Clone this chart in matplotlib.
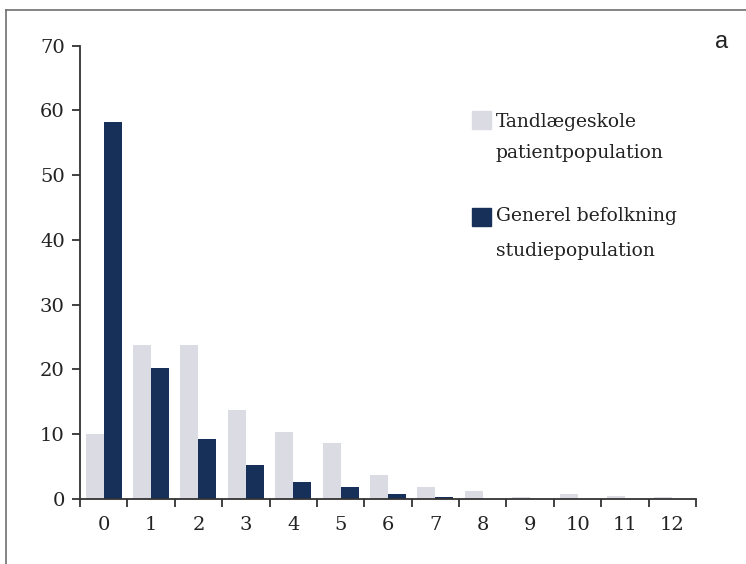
import matplotlib
matplotlib.use("Agg")
import matplotlib.pyplot as plt
from matplotlib.lines import Line2D
from matplotlib.patches import Rectangle
import numpy as np

# number of affected teeth per person
categories = [str(i) for i in range(13)]
tandlaege = [10.0, 23.8, 23.8, 13.7, 10.3, 8.6, 3.7, 1.9, 1.3, 0.3, 0.7, 0.5, 0.3]
befolkning = [58.2, 20.3, 9.3, 5.2, 2.7, 1.9, 0.7, 0.3, 0, 0, 0, 0, 0]
legend_lines = [["Tandlægeskole", "patientpopulation"],
                ["Generel befolkning", "studiepopulation"]]
yticks = list(range(0, 71, 10))

light = '#DADBE3'
dark = '#163059'
W, H = 746, 564

plt.rcParams['font.family'] = 'DejaVu Serif'
fig = plt.figure(figsize=(W / 100, H / 100), dpi=100)
ax = fig.add_axes([80 / W, 1 - 499 / H, 616 / W, (499 - 45.7) / H])

x = np.arange(len(categories))
bw = 0.38
ax.bar(x - bw / 2, tandlaege, bw, color=light, linewidth=0)
ax.bar(x + bw / 2, befolkning, bw, color=dark, linewidth=0)

ax.set_xlim(-0.5, len(categories) - 0.5)
ax.set_ylim(0, 70)
for s in ['top', 'right']:
    ax.spines[s].set_visible(False)
for s in ['left', 'bottom']:
    ax.spines[s].set_color('#333333')
    ax.spines[s].set_linewidth(1.3)

ax.set_xticks(x)
ax.set_xticklabels(categories, fontsize=14, color='#222222')
ax.set_xticks(np.arange(-0.5, len(categories)), minor=True)
ax.tick_params(axis='x', which='major', length=0, pad=12)
ax.tick_params(axis='x', which='minor', length=6, width=1.3, color='#333333')
ax.set_yticks(yticks)
ax.set_yticklabels([str(v) for v in yticks], fontsize=14, color='#222222')
ax.tick_params(axis='y', length=6, width=1.3, color='#333333', pad=5)

# legend drawn by hand so the swatch sits on the first text line
def fx(px):
    return px / W

def fy(py):
    return 1 - py / H

swatches = [(111, light), (208, dark)]
baselines = [(126.7, 158.5), (221, 255.5)]
for (top, col), lines, bl in zip(swatches, legend_lines, baselines):
    fig.patches.append(Rectangle((fx(472), fy(top + 18)), 19 / W, 18 / H,
                                 transform=fig.transFigure, color=col))
    for txt, b in zip(lines, bl):
        fig.text(fx(496), fy(b), txt, fontsize=13.5, color='#222222', va='baseline')

fig.text(fx(722), fy(48), 'a', family='Liberation Sans', fontsize=17,
         ha='center', va='baseline', color='#222222')

# outer frame, top and left edges
fig.add_artist(Line2D([fx(6), 1], [fy(10), fy(10)], transform=fig.transFigure,
                      color='#6e6e6e', linewidth=1.2))
fig.add_artist(Line2D([fx(6), fx(6)], [fy(10), 0], transform=fig.transFigure,
                      color='#6e6e6e', linewidth=1.2))

fig.savefig('out.png', dpi=100)
